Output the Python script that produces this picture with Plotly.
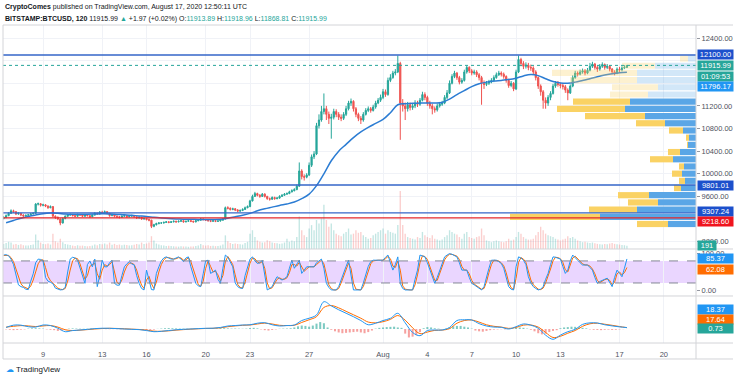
import pandas as pd
import plotly.graph_objects as go

FONT = "Liberation Sans, Arial, sans-serif"

# ---------------- header text ----------------
header_author = "CryptoComes"
header_published = "published on TradingView.com, August 17, 2020 12:50:11 UTC"
header_symbol = "BITSTAMP:BTCUSD, 120"
header_last = "11915.99"
header_change = "+1.97 (+0.02%)"
header_o, header_h, header_l, header_c = "11913.89", "11918.96", "11868.81", "11915.99"
countdown_text = "01:09:53"

# ---------------- price candles (4h samples) ----------------
candle_start = "2020-07-06 08:00"
first_open = 9210
close = [9225, 9260, 9300, 9345,
         9330, 9290, 9300, 9270, 9255, 9265,
         9275, 9290, 9300, 9465, 9470, 9445,
         9450, 9430, 9400, 9420, 9250, 9230,
         9200, 9130, 9210, 9250, 9270, 9280,
         9260, 9250, 9280, 9270, 9250, 9270,
         9260, 9240, 9270, 9300, 9290, 9320,
         9310, 9330, 9300, 9260, 9280, 9250,
         9240, 9230, 9250, 9260, 9240, 9250,
         9260, 9240, 9220, 9230, 9200, 9210,
         9190, 9180, 9070, 9100, 9120, 9130,
         9130, 9140, 9150, 9140, 9150, 9160,
         9150, 9160, 9170, 9150, 9160, 9170,
         9160, 9150, 9170, 9180, 9200, 9190,
         9180, 9170, 9160, 9170, 9160, 9165,
         9180, 9200, 9400, 9390, 9370, 9380,
         9360, 9340, 9350, 9370, 9400, 9420,
         9520, 9600, 9650, 9620, 9600, 9640,
         9600, 9560, 9550, 9580, 9560, 9570,
         9600, 9620, 9640, 9650, 9680, 9700,
         9720, 9780, 10050, 9950, 9940, 9980,
         10150, 10300, 10350, 10850, 10950, 11100,
         11150, 11050, 10980, 11000, 11100, 11050,
         11000, 10980, 11050, 11150, 11250, 11280,
         11150, 11050, 10980, 10950, 11050, 11120,
         11150, 11120, 11180, 11250, 11300, 11350,
         11450, 11400, 11650, 11700, 11780, 11800,
         11950, 11250, 11200, 11150, 11220, 11170,
         11200, 11250, 11230, 11300, 11400, 11350,
         11250, 11200, 11150, 11130, 11200, 11230,
         11250, 11350, 11430, 11600, 11720, 11780,
         11700, 11620, 11650, 11800, 11880, 11820,
         11780, 11800, 11750, 11700, 11600, 11580,
         11600, 11620, 11650, 11700, 11750, 11780,
         11760, 11720, 11650, 11560, 11600, 11500,
         11800, 12020, 11950, 11900, 11920, 11880,
         11870, 11800, 11700, 11550, 11450, 11300,
         11250, 11350, 11420, 11550, 11600, 11580,
         11560, 11540, 11480, 11430, 11550, 11700,
         11780, 11760, 11800, 11820, 11780, 11830,
         11900, 11940, 11880, 11850, 11900, 11930,
         11880, 11900, 11850, 11800, 11780, 11850,
         11840, 11870, 11880, 11915.99]
high = [9250, 9280, 9320, 9370,
        9365, 9340, 9320, 9310, 9285, 9280,
        9290, 9305, 9320, 9480, 9490, 9480,
        9470, 9465, 9440, 9440, 9425, 9265,
        9245, 9210, 9225, 9265, 9290, 9300,
        9290, 9275, 9295, 9290, 9280, 9285,
        9285, 9270, 9285, 9320, 9315, 9340,
        9345, 9350, 9340, 9310, 9295, 9290,
        9265, 9255, 9265, 9280, 9270, 9265,
        9275, 9270, 9250, 9245, 9240, 9225,
        9220, 9205, 9185, 9115, 9135, 9145,
        9145, 9155, 9165, 9160, 9165, 9175,
        9170, 9175, 9185, 9180, 9170, 9185,
        9180, 9170, 9185, 9195, 9215, 9210,
        9200, 9195, 9185, 9180, 9180, 9180,
        9195, 9215, 9420, 9425, 9405, 9400,
        9395, 9375, 9370, 9390, 9420, 9440,
        9540, 9630, 9680, 9665, 9640, 9660,
        9655, 9610, 9580, 9600, 9595, 9590,
        9620, 9640, 9660, 9670, 9700, 9725,
        9745, 9810, 10200, 10080, 9990, 10010,
        10200, 10340, 10400, 10900, 11050, 11200,
        11420, 11200, 11100, 11060, 11150, 11140,
        11090, 11050, 11090, 11200, 11290, 11330,
        11300, 11180, 11080, 11020, 11090, 11160,
        11190, 11180, 11220, 11290, 11340, 11400,
        11500, 11490, 11700, 11760, 11820, 11850,
        12090, 11980, 11320, 11260, 11270, 11260,
        11250, 11300, 11290, 11340, 11450, 11440,
        11380, 11290, 11240, 11190, 11240, 11270,
        11290, 11390, 11480, 11650, 11760, 11820,
        11800, 11730, 11690, 11840, 11910, 11900,
        11850, 11840, 11830, 11780, 11730, 11650,
        11640, 11660, 11690, 11740, 11790, 11820,
        11810, 11790, 11740, 11680, 11640, 11620,
        11840, 12090, 12050, 11990, 11970, 11960,
        11930, 11900, 11830, 11720, 11580, 11480,
        11350, 11390, 11460, 11590, 11640, 11640,
        11610, 11600, 11570, 11510, 11580, 11740,
        11820, 11810, 11840, 11860, 11850, 11870,
        11960, 11980, 11960, 11910, 11940, 11970,
        11950, 11940, 11920, 11870, 11830, 11880,
        11890, 11900, 11920, 11918.96]
low = [9195, 9215, 9250, 9290,
       9310, 9270, 9275, 9250, 9235, 9240,
       9250, 9265, 9280, 9295, 9440, 9420,
       9425, 9410, 9380, 9390, 9230, 9200,
       9180, 9090, 9120, 9195, 9240, 9255,
       9245, 9235, 9240, 9255, 9235, 9240,
       9245, 9220, 9230, 9260, 9275, 9280,
       9295, 9300, 9285, 9240, 9250, 9230,
       9220, 9210, 9220, 9240, 9225, 9230,
       9240, 9225, 9200, 9205, 9185, 9190,
       9175, 9160, 9040, 9055, 9085, 9105,
       9115, 9120, 9130, 9125, 9130, 9140,
       9135, 9140, 9150, 9135, 9140, 9150,
       9145, 9135, 9140, 9160, 9170, 9175,
       9165, 9155, 9145, 9150, 9145, 9150,
       9155, 9170, 9195, 9370, 9350, 9355,
       9340, 9320, 9325, 9340, 9360, 9390,
       9410, 9510, 9590, 9600, 9575, 9590,
       9580, 9540, 9525, 9540, 9540, 9550,
       9560, 9590, 9610, 9630, 9640, 9670,
       9690, 9710, 9770, 9900, 9880, 9920,
       9960, 10120, 10260, 10330, 10800, 10920,
       11050, 10950, 10880, 10620, 10960, 11000,
       10950, 10930, 10950, 11020, 11120, 11200,
       11100, 11000, 10930, 10880, 10920, 11030,
       11090, 11080, 11100, 11150, 11230, 11270,
       11320, 11360, 11380, 11620, 11680, 11740,
       11780, 10600, 11100, 10950, 11100, 11120,
       11130, 11160, 11180, 11200, 11280, 11300,
       11200, 11150, 11050, 11080, 11100, 11170,
       11200, 11230, 11320, 11410, 11580, 11690,
       11660, 11580, 11590, 11630, 11770, 11780,
       11740, 11750, 11710, 11650, 11220, 11500,
       11550, 11570, 11600, 11620, 11680, 11730,
       11720, 11680, 11610, 11520, 11530, 11460,
       11480, 11780, 11900, 11850, 11860, 11830,
       11820, 11760, 11650, 11500, 11380, 11150,
       11150, 11200, 11300, 11400, 11520, 11540,
       11510, 11490, 11430, 11300, 11410, 11530,
       11680, 11720, 11740, 11770, 11740, 11760,
       11810, 11870, 11840, 11800, 11820, 11870,
       11840, 11850, 11810, 11760, 11740, 11760,
       11800, 11810, 11850, 11868.81]
volume = [300, 350, 420, 380,
          260, 300, 240, 280, 220, 200,
          210, 230, 260, 850, 520, 380,
          300, 280, 320, 260, 900, 450,
          380, 600, 400, 300, 260, 240,
          200, 180, 220, 190, 200, 170,
          160, 180, 200, 260, 220, 300,
          280, 320, 260, 380, 250, 300,
          240, 260, 220, 250, 230, 210,
          220, 250, 300, 260, 380, 300,
          320, 380, 750, 500, 320, 260,
          220, 200, 180, 190, 170, 160,
          150, 140, 160, 150, 140, 130,
          140, 150, 170, 200, 300, 220,
          200, 220, 180, 190, 170, 180,
          200, 260, 800, 450, 350, 300,
          320, 300, 280, 260, 350, 420,
          900, 1100, 700, 500, 420, 380,
          400, 520, 450, 380, 350, 330,
          300, 320, 380, 600, 420, 500,
          450, 700, 1900, 1100, 800, 700,
          1200, 1400, 1100, 1700, 1500, 1800,
          2600, 1700, 1300, 1500, 1100, 900,
          800, 750, 900, 1000, 1200, 850,
          900, 1100, 950, 1000, 800, 700,
          600, 650, 800, 900, 1000, 1100,
          1200, 900, 1100, 1000, 950, 900,
          1400, 3400, 1400, 900, 700, 650,
          600, 550, 700, 650, 1000, 800,
          700, 650, 800, 600, 550, 500,
          550, 700, 800, 1100, 1000, 900,
          850, 700, 600, 900, 1000, 700,
          650, 600, 700, 750, 1200, 800,
          500, 450, 400, 450, 500, 450,
          420, 400, 450, 600, 500, 550,
          700, 1000, 900, 700, 600, 550,
          550, 600, 800, 1000, 1300, 1100,
          900, 800, 750, 700, 600, 550,
          500, 550, 600, 750, 650, 700,
          600, 500, 450, 400, 420, 380,
          350, 380, 330, 300, 280, 260,
          300, 280, 320, 350, 300, 280,
          260, 240, 220, 191]

# ---------------- moving average (12h samples) ----------------
half_day_start = "2020-07-06 12:00"
ema = [9135, 9175, 9215, 9245, 9270, 9295, 9305, 9300, 9290, 9285,
       9285, 9285, 9288, 9292, 9290, 9282, 9275, 9265, 9255, 9245,
       9230, 9218, 9208, 9202, 9198, 9195, 9193, 9192, 9192, 9195,
       9215, 9240, 9265, 9300, 9345, 9380, 9410, 9440, 9465, 9500,
       9560, 9640, 9790, 10000, 10230, 10400, 10520, 10640, 10740, 10820,
       10890, 10960, 11080, 11220, 11240, 11245, 11250, 11252, 11250, 11260,
       11320, 11400, 11470, 11540, 11590, 11620, 11640, 11650, 11665, 11690,
       11730, 11755, 11735, 11680, 11630, 11605, 11600, 11620, 11650, 11680,
       11715, 11745, 11770, 11785, 11796.17]

# ---------------- Stoch RSI (4h samples) ----------------
stoch_k = [96, 97, 94, 85, 70, 45, 15, 10, 8, 3,
           2, 25, 45, 75, 85, 84, 80, 35, 25, 22,
           18, 6, 3, 1, 2, 8, 50, 85, 90, 88,
           82, 60, 35, 19, 70, 80, 64, 85, 10, 40,
           82, 64, 64, 75, 82, 19, 14, 14, 40, 64,
           72, 78, 72, 69, 40, 19, 5, 1, 55, 30,
           2, 1, 46, 64, 80, 88, 91, 88, 85, 85,
           88, 91, 85, 78, 88, 91, 64, 40, 19, 12,
           10, 45, 80, 82, 46, 50, 55, 30, 19, 60,
           96, 90, 75, 64, 20, 10, 6, 5, 40, 64,
           85, 91, 80, 73, 75, 82, 40, 1, 5, 10,
           25, 37, 32, 28, 32, 37, 60, 82, 60, 70,
           82, 46, 55, 64, 64, 64, 64, 75, 80, 85,
           60, 19, 8, 1, 1, 1, 10, 30, 46, 65,
           82, 40, 1, 1, 1, 1, 20, 46, 65, 78,
           82, 82, 82, 82, 82, 90, 96, 75, 55, 70,
           91, 19, 5, 1, 1, 1, 1, 30, 55, 96,
           94, 91, 75, 55, 35, 19, 35, 55, 75, 91,
           96, 100, 98, 95, 91, 75, 55, 55, 55, 35,
           19, 15, 10, 5, 1, 10, 37, 60, 82, 82,
           82, 78, 73, 60, 35, 10, 3, 1, 64, 91,
           88, 82, 70, 37, 20, 10, 5, 1, 3, 10,
           30, 46, 70, 91, 90, 88, 85, 65, 46, 55,
           80, 96, 90, 82, 75, 69, 69, 69, 62, 55,
           35, 19, 24, 28, 30, 33, 20, 10, 35, 55,
           46, 37, 60, 85.37]
stoch_d = [95, 96, 95, 89, 78, 58, 35, 18, 10, 6,
           4, 12, 28, 50, 72, 82, 83, 62, 38, 26,
           20, 12, 6, 3, 2, 5, 25, 55, 80, 88,
           86, 72, 50, 30, 40, 65, 70, 74, 45, 30,
           55, 70, 66, 70, 78, 48, 22, 16, 28, 50,
           66, 74, 74, 70, 55, 32, 14, 5, 28, 38,
           18, 5, 22, 50, 70, 83, 89, 89, 86, 85,
           86, 89, 88, 82, 83, 89, 78, 55, 32, 16,
           11, 25, 60, 80, 65, 50, 52, 42, 25, 40,
           78, 92, 82, 70, 42, 16, 8, 6, 22, 50,
           74, 88, 86, 77, 74, 78, 60, 20, 4, 7,
           18, 30, 34, 30, 30, 34, 48, 70, 70, 66,
           76, 64, 52, 58, 64, 64, 64, 70, 77, 82,
           72, 40, 15, 5, 1, 1, 5, 20, 38, 55,
           74, 60, 20, 3, 1, 1, 10, 32, 55, 72,
           80, 82, 82, 82, 82, 86, 92, 86, 66, 62,
           80, 55, 12, 3, 1, 1, 1, 15, 42, 75,
           94, 92, 84, 65, 45, 27, 27, 45, 65, 83,
           93, 98, 98, 96, 93, 84, 65, 55, 55, 45,
           27, 17, 12, 8, 3, 5, 23, 48, 70, 82,
           82, 80, 75, 67, 48, 22, 7, 2, 32, 76,
           89, 85, 76, 54, 28, 15, 8, 3, 2, 6,
           20, 38, 58, 80, 90, 89, 86, 76, 56, 50,
           67, 88, 93, 86, 78, 72, 69, 69, 66, 58,
           45, 27, 21, 26, 29, 31, 27, 15, 22, 45,
           50, 42, 48, 62.08]
stoch_upper, stoch_lower = 80, 20
stoch_ticks = [0, 100]

# ---------------- MACD (12h lines, 6h histogram) ----------------
macd = [20, 50, 50, 30, 25, 52, 45, 10, -35, -20,
        -13, -5, 5, 10, 9, 5, 0, -4, -8, -20,
        -35, -30, -20, -10, -4, 0, 5, 9, 10, 20,
        39, 45, 52, 55, 75, 82, 55, 39, 45, 52,
        110, 140, 182, 355, 300, 250, 205, 160, 110, 55,
        75, 110, 139, 204, 80, -45, -87, -20, -13, -13,
        20, 110, 120, 117, 70, 39, 25, 22, 0, 30,
        65, 50, 10, -80, -134, -80, -35, -5, 60, 80,
        78, 55, 40, 28, 18.37]
macd_signal = [25, 35, 44, 40, 32, 40, 45, 25, -10, -20,
               -15, -8, 0, 6, 9, 7, 3, -2, -6, -14,
               -28, -30, -24, -15, -8, -2, 3, 7, 9, 15,
               30, 40, 48, 52, 65, 76, 65, 48, 45, 48,
               85, 120, 160, 280, 305, 275, 230, 185, 140, 90,
               80, 95, 125, 175, 115, 15, -60, -40, -18, -14,
               5, 75, 110, 117, 90, 55, 35, 25, 8, 20,
               50, 52, 25, -45, -110, -95, -55, -20, 35, 68,
               75, 62, 48, 32, 17.64]
hist_start = "2020-07-06 12:00"
macd_hist = [-5, -10, -15, -12, -8, -5, 5, 8, 10, 8,
             5, -5, -10, -15, -25, -20, -8, 5, 8, 6,
             4, 3, 5, 6, 4, 3, 2, -2, -3, -2,
             -3, -4, -3, -2, -5, -8, -10, -12, -15, -12,
             -8, 2, 6, 10, 12, 10, 8, 6, 5, 4,
             3, 3, 2, 2, 3, 3, 5, 8, 12, 10,
             8, 5, 6, 4, 3, 5, 12, 15, 8, -5,
             -15, -20, -12, -5, 3, 5, 6, 10, 20, 35,
             45, 40, 30, 45, 70, 90, 75, 20, -10, -30,
             -45, -55, -50, -45, -40, -35, -45, -55, -40, -20,
             5, 15, 20, 25, 28, 30, 20, 15, -60, -110,
             -100, -80, -40, 10, 25, 20, 10, 5, 0, 5,
             20, 35, 40, 40, 30, 20, 5, -20, -30, -35,
             -25, -15, -8, -5, -3, -5, 5, 10, 15, 20,
             15, 5, -10, -30, -55, -70, -60, -40, -25, -15,
             10, 20, 25, 30, 28, 20, 15, 8, -5, -10,
             -12, -15, -10, -8, -12, -10, -5, -2, 0.73]

# ---------------- drawn levels ----------------
level_top = 12100.00
level_mid = 9801.01
level_low = 9307.24
level_red = 9218.60
last_price = 11915.99
ema_last = 11796.17
last_volume = 191

# price-scale labels that are not hidden behind the coloured labels
price_tick_values = [8800, 9600, 10000, 10400, 10800, 11200, 12400]

# ---------------- visible-range volume profile ----------------
vp_price = [12038, 11910, 11783, 11656, 11529, 11401, 11274, 11147, 11020, 10893,
            10765, 10638, 10511, 10384, 10256, 10129, 10002, 9875, 9748, 9621,
            9493, 9366, 9239, 9112]
vp_up = [8, 41, 59, 59, 38, 48, 66, 71, 51, 31, 13, 7, 8, 16, 23, 12, 14, 11, 15, 47,
         38, 59, 96, 28]
vp_down = [8, 33, 85, 67, 46, 38, 57, 68, 60, 29, 14, 3, 1, 12, 23, 5, 10, 6, 7, 31,
           30, 48, 90, 31]
vp_pale = [True] * 6 + [False] * 18
vp_row_height = 127.2

# ---------------- time axis ----------------
x_ticks = ["2020-07-09", "2020-07-13", "2020-07-16", "2020-07-20", "2020-07-23",
           "2020-07-27", "2020-08-01", "2020-08-04", "2020-08-07", "2020-08-10",
           "2020-08-13", "2020-08-17", "2020-08-20"]
x_tick_text = ["9", "13", "16", "20", "23", "27", "Aug", "4", "7", "10", "13", "17", "20"]
x_range = ["2020-07-06 06:57", "2020-08-22 04:11"]

# ====================================================================
UP, DOWN = "#26a69a", "#ef5350"
BLUE, ORANGE = "#2196f3", "#ff6d00"
LEVEL_BLUE = "#3566c9"
GRID = "#f0f2f7"
FRAME = "#d3d4d8"
TXT = "#50535e"

t4 = pd.date_range(candle_start, periods=len(close), freq="4h")
t12 = pd.date_range(half_day_start, periods=len(ema), freq="12h")
t6 = pd.date_range(hist_start, periods=len(macd_hist), freq="6h")
opens = [first_open] + close[:-1]

fig = go.Figure()

# candles
fig.add_trace(go.Candlestick(
    x=t4, open=opens, high=high, low=low, close=close,
    increasing=dict(line=dict(color=UP, width=1), fillcolor=UP),
    decreasing=dict(line=dict(color=DOWN, width=1), fillcolor=DOWN),
    whiskerwidth=0, xaxis="x", yaxis="y", hoverinfo="skip"))

# moving average
fig.add_trace(go.Scatter(x=t12, y=ema, mode="lines", xaxis="x", yaxis="y",
                         line=dict(color="#2b7cd3", width=1.5, shape="spline"), hoverinfo="skip"))

# volume
vol_colors = ["rgba(38,166,154,0.28)" if c >= o else "rgba(239,83,80,0.28)"
              for o, c in zip(opens, close)]
fig.add_trace(go.Bar(x=t4, y=volume, marker=dict(color=vol_colors, line_width=0),
                     width=4 * 3600 * 1000 * 0.55, xaxis="x", yaxis="y4", hoverinfo="skip"))

# volume profile (right-anchored)
up_cols = ["rgba(90,165,230,0.27)" if p else "#5aa6e6" for p in vp_pale]
dn_cols = ["rgba(250,210,100,0.30)" if p else "#fad264" for p in vp_pale]
fig.add_trace(go.Bar(y=vp_price, x=vp_up, base=[0] * len(vp_up), orientation="h",
                     width=vp_row_height * 0.86, marker=dict(color=up_cols, line_width=0),
                     xaxis="x2", yaxis="y", hoverinfo="skip"))
fig.add_trace(go.Bar(y=vp_price, x=vp_down, base=vp_up, orientation="h",
                     width=vp_row_height * 0.86, marker=dict(color=dn_cols, line_width=0),
                     xaxis="x2", yaxis="y", hoverinfo="skip"))

# stoch rsi
fig.add_trace(go.Scatter(x=t4[:len(stoch_d)], y=stoch_d, mode="lines", xaxis="x", yaxis="y2",
                         line=dict(color=ORANGE, width=1), hoverinfo="skip"))
fig.add_trace(go.Scatter(x=t4[:len(stoch_k)], y=stoch_k, mode="lines", xaxis="x", yaxis="y2",
                         line=dict(color=BLUE, width=1), hoverinfo="skip"))

# macd
hist_cols = ["rgba(38,166,154,0.6)" if v >= 0 else "rgba(239,83,80,0.55)" for v in macd_hist]
fig.add_trace(go.Bar(x=t6, y=macd_hist, marker=dict(color=hist_cols, line_width=0),
                     width=6 * 3600 * 1000 * 0.55, xaxis="x", yaxis="y3", hoverinfo="skip"))
fig.add_trace(go.Scatter(x=t12, y=macd_signal, mode="lines", xaxis="x", yaxis="y3",
                         line=dict(color=ORANGE, width=1, shape="spline"), hoverinfo="skip"))
fig.add_trace(go.Scatter(x=t12, y=macd, mode="lines", xaxis="x", yaxis="y3",
                         line=dict(color=BLUE, width=1, shape="spline"), hoverinfo="skip"))

shapes = []
for lv, col in [(level_top, LEVEL_BLUE), (level_mid, LEVEL_BLUE), (level_low, LEVEL_BLUE),
                (level_red, "#e3262b")]:
    shapes.append(dict(type="line", xref="x domain", yref="y", x0=0, x1=1, y0=lv, y1=lv,
                       line=dict(color=col, width=1.3)))
shapes.append(dict(type="line", xref="x domain", yref="y", x0=0, x1=1, y0=last_price,
                   y1=last_price, line=dict(color=UP, width=1, dash="dot")))
shapes.append(dict(type="rect", xref="x domain", yref="y2", x0=0, x1=1, y0=stoch_lower,
                   y1=stoch_upper, fillcolor="rgba(178,102,255,0.27)", line_width=0, layer="below"))
for lv in (stoch_lower, stoch_upper):
    shapes.append(dict(type="line", xref="x domain", yref="y2", x0=0, x1=1, y0=lv, y1=lv,
                       line=dict(color="#858896", width=1, dash="dash")))

# frame
XR = 1.0534
YB = -0.0503
for yy in (1.0, 0.2956, 0.1478, 0.0, YB):
    shapes.append(dict(type="line", xref="paper", yref="paper", x0=0, x1=XR, y0=yy, y1=yy,
                       line=dict(color=FRAME, width=1)))
for xx in (0.0, 1.0):
    shapes.append(dict(type="line", xref="paper", yref="paper", x0=xx, x1=xx, y0=YB, y1=1.0,
                       line=dict(color=FRAME, width=1)))

def axis_label(text, y, yref, bg, yshift=0, width=35):
    return dict(text=text, x=1, xref="paper", xanchor="left", xshift=1, y=y, yref=yref,
                yanchor="middle", yshift=yshift, showarrow=False, bgcolor=bg, width=width,
                height=9, borderpad=0, align="center",
                font=dict(color="white", size=7.5, family=FONT))

g = f"color:{UP}"
annotations = [
    dict(text=f"<b>{header_author}</b> {header_published}", x=0, y=1.0566, xref="paper",
         yref="paper", xanchor="left", yanchor="middle", showarrow=False,
         font=dict(size=7, color="#131722", family=FONT)),
    dict(text=(f"<b>{header_symbol}</b> {header_last} <span style='{g}'>▲</span> {header_change} "
               f"O:<span style='{g}'>{header_o}</span> H:<span style='{g}'>{header_h}</span> "
               f"L:<span style='{g}'>{header_l}</span> C:<span style='{g}'>{header_c}</span>"),
         x=0, y=1.0189, xref="paper", yref="paper", xanchor="left", yanchor="middle",
         showarrow=False, font=dict(size=7, color="#131722", family=FONT)),
    dict(text="<span style='color:#2196f3'>☁</span> TradingView", x=0, y=-0.0849, xref="paper",
         yref="paper", xanchor="left", yanchor="middle", xshift=1, showarrow=False,
         font=dict(size=8, color="#131722", family=FONT)),
    axis_label(f"{level_top:.2f}", level_top, "y", "#1c50cc"),
    axis_label(f"{last_price:.2f}", last_price, "y", UP),
    axis_label(countdown_text, last_price, "y", UP, yshift=-11),
    axis_label(f"{ema_last:.2f}", ema_last, "y", BLUE, yshift=-14),
    axis_label(f"{level_mid:.2f}", level_mid, "y", "#1c50cc"),
    axis_label(f"{level_low:.2f}", level_low, "y", "#1c50cc", yshift=1),
    axis_label(f"{level_red:.2f}", level_red, "y", "#f0141e", yshift=-4),
    axis_label(f"{last_volume}", last_volume, "y4", UP, width=18),
    axis_label(f"{stoch_k[-1]:.2f}", stoch_k[-1], "y2", BLUE),
    axis_label(f"{stoch_d[-1]:.2f}", stoch_d[-1], "y2", ORANGE, yshift=-1.5),
    axis_label(f"{macd[-1]:.2f}", macd[-1], "y3", BLUE, yshift=18.5),
    axis_label(f"{macd_signal[-1]:.2f}", macd_signal[-1], "y3", ORANGE, yshift=8.5),
    axis_label(f"{macd_hist[-1]:.2f}", macd_hist[-1], "y3", UP),
]

fig.update_layout(
    width=736, height=380, margin=dict(l=3, r=40, t=25, b=37),
    paper_bgcolor="white", plot_bgcolor="white", showlegend=False, barmode="overlay",
    font=dict(family=FONT, size=7.5, color=TXT),
    xaxis=dict(type="date", range=x_range, domain=[0, 1], anchor="y3", tickvals=x_ticks,
               ticktext=x_tick_text, showgrid=True, gridcolor=GRID, zeroline=False,
               showline=False, ticks="outside", ticklen=4, tickcolor="rgba(0,0,0,0)",
               rangeslider=dict(visible=False), tickfont=dict(size=7.5, color=TXT)),
    xaxis2=dict(overlaying="x", range=[693, 0], visible=False, anchor="y"),
    yaxis=dict(domain=[0.2956, 1], range=[8670, 12630], side="right", anchor="x",
               tickvals=price_tick_values, tickformat=".2f", showgrid=True, gridcolor=GRID,
               minor=dict(dtick=400, tick0=0, showgrid=True, gridcolor=GRID, ticks=""),
               zeroline=False, ticks="outside", ticklen=3, tickcolor="#9598a1",
               tickfont=dict(size=7.5, color=TXT)),
    yaxis2=dict(domain=[0.1478, 0.2956], range=[-15.5, 112.5], side="right", anchor="x",
                tickvals=stoch_ticks, tickformat=".2f", showgrid=False, zeroline=False,
                ticks="outside", ticklen=3, tickcolor="#9598a1", tickfont=dict(size=7.5, color=TXT)),
    yaxis3=dict(domain=[0, 0.1478], range=[-182, 429], side="right", anchor="x",
                showticklabels=False, showgrid=False, zeroline=False),
    yaxis4=dict(overlaying="y", range=[0, 13131], visible=False, anchor="x"),
    shapes=shapes, annotations=annotations,
)

fig.write_html("out.html", config={"displayModeBar": False},
               post_script="document.body.style.margin='0';")
